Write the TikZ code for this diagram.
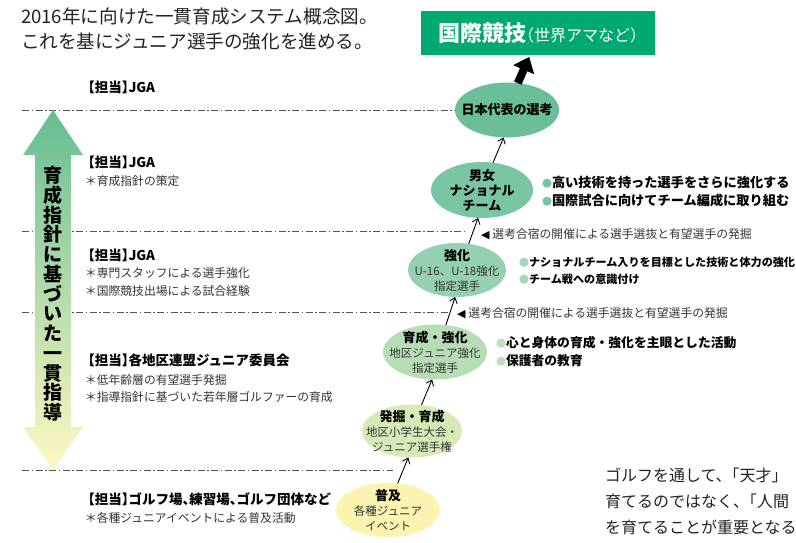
\documentclass[tikz,border=0pt]{standalone}
\usepackage{fontspec}
\setmainfont{Noto Sans CJK JP}
\newfontfamily\symf{DejaVu Sans}
\usetikzlibrary{shapes.geometric,arrows.meta}
\definecolor{txtdark}{HTML}{222222}
\definecolor{txtgray}{HTML}{333333}
\definecolor{lineg}{HTML}{555555}
\definecolor{intlgreen}{HTML}{00A971}
\definecolor{eonec}{HTML}{6ABF98}
\definecolor{etwoc}{HTML}{79C5A4}
\definecolor{ethreec}{HTML}{94D0B1}
\definecolor{efourc}{HTML}{B7DDB6}
\definecolor{efivec}{HTML}{D6E9B7}
\definecolor{esixc}{HTML}{FBF4B1}
\definecolor{bultwo}{HTML}{79C5A4}
\definecolor{bulthree}{HTML}{A3D6BA}
\definecolor{bulfour}{HTML}{BFE0BA}
\definecolor{arrtop}{HTML}{66BD94}
\definecolor{arrmid}{HTML}{C4E1A9}
\definecolor{arrbot}{HTML}{FFF9C2}
\newcommand\hw[1]{{\addfontfeature{RawFeature=+halt}#1}}
\newcommand\sttl[1]{{\bfseries\color{black}\fontsize{13}{15}\selectfont #1}}
\newcommand\bul[1]{{\color{#1}\fontsize{10}{10}\selectfont ●}}
\newcommand\tri{{\symf\color{black}\fontsize{11}{11}\selectfont ◀}\hspace{3pt}}
\begin{document}
\begin{tikzpicture}[x=1pt,y=-1pt,
  every node/.style={inner sep=0pt, outer sep=0pt},
  title/.style={anchor=west, text=txtdark, font=\fontsize{18.6}{18.6}\selectfont},
  tanto/.style={anchor=west, text=black, font=\bfseries\fontsize{13.5}{13.5}\selectfont},
  tsub/.style={anchor=west, text=txtgray, font=\fontsize{11.8}{11.8}\selectfont},
  stage/.style={ellipse, inner xsep=-14pt, inner ysep=-8pt, align=center, text=txtgray, font=\fontsize{11.5}{15}\selectfont},
  point/.style={anchor=west, text=black, font=\bfseries\fontsize{13.2}{13.2}\selectfont},
  note/.style={anchor=west, text=txtgray, font=\fontsize{11.8}{11.8}\selectfont},
  comment/.style={anchor=west, text=txtdark, font=\fontsize{16}{16}\selectfont},
  dashdot/.style={draw=lineg, line width=0.9pt, dash pattern=on 7pt off 2.5pt on 1.5pt off 2.5pt},
  uparrow/.style={draw=black, -{Straight Barb[length=5pt,width=8pt]}, line width=0.9pt},
  bigarrow/.style={draw=black, -{Triangle[length=14pt,width=22pt]}, line width=8pt},
]
\useasboundingbox (0,0) rectangle (796,543);

% title
\node[title] (t1) at (21,16) {2016年に向けた一貫育成システム概念図。};
\node[title] (t2) at (21,41) {これを基にジュニア選手の強化を進める。};

% top box
\node[fill=intlgreen, minimum width=234pt, minimum height=44pt, text=white] (intl) at (538,33)
  {{\bfseries\fontsize{22}{22}\selectfont 国際競技}{\fontsize{16}{16}\selectfont \hw{（}世界アマなど\hw{）}}};

% stage ellipses
\node[stage, fill=eonec, minimum width=104pt, minimum height=55pt] (e1) at (507,110) {\sttl{日本代表の選考}};
\node[stage, fill=etwoc, minimum width=102pt, minimum height=56pt] (e2) at (482,190) {\sttl{男女}\\\sttl{ナショナル}\\\sttl{チーム}};
\node[stage, fill=ethreec, minimum width=98pt, minimum height=54pt] (e3) at (457,270) {\sttl{強化}\\U-16、U-18強化\\指定選手};
\node[stage, fill=efourc, minimum width=104pt, minimum height=55pt] (e4) at (435,352) {\sttl{育成・強化}\\地区ジュニア強化\\指定選手};
\node[stage, fill=efivec, minimum width=100pt, minimum height=53pt] (e5) at (412,431) {\sttl{発掘・育成}\\地区小学生大会・\\ジュニア選手権};
\node[stage, fill=esixc, minimum width=104pt, minimum height=54pt] (e6) at (388,510) {\sttl{普及}\\各種ジュニア\\イベント};

% arrows
\draw[bigarrow, shorten >=2pt] (e1.68) -- (intl.250);
\draw[uparrow] (e2.68) -- (e1.263);
\draw[uparrow] (e3.66) -- (e2.262);
\draw[uparrow] (e4.68) -- (e3.266);
\draw[uparrow] (e5.70) -- (e4.264);
\draw[uparrow] (e6.70) -- (e5.262);

% dash-dot lines
\coordinate (d1) at (22,110);
\coordinate (d2a) at (22,231); \coordinate (d2b) at (467,231);
\coordinate (d3a) at (22,312); \coordinate (d3b) at (448,312);
\coordinate (d4a) at (22,470); \coordinate (d4b) at (393,470);
\draw[dashdot] (d1) -- (e1.west);
\draw[dashdot] (d2a) -- (d2b);
\draw[dashdot] (d3a) -- (d3b);
\draw[dashdot] (d4a) -- (d4b);

% left double arrow
\shade[top color=arrtop, middle color=arrmid, bottom color=arrbot]
  (53,110) -- (83,155) -- (71,155) -- (71,427) -- (83,427) -- (53,470)
  -- (23,427) -- (35,427) -- (35,155) -- (23,155) -- cycle;
\node[align=center, text=black, font=\bfseries\fontsize{19}{19.75}\selectfont] (vt) at (53,294)
  {育\\成\\指\\針\\に\\基\\づ\\い\\た\\一\\貫\\指\\導};

% left labels
\node[tanto] (l1) at (88,87) {\hw{【}担当\hw{】}JGA};
\node[tanto] (l2) at (88,162) {\hw{【}担当\hw{】}JGA};
\node[tsub] (s2a) at (85,181) {＊育成指針の策定};
\node[tanto] (l3) at (88,255) {\hw{【}担当\hw{】}JGA};
\node[tsub] (s3a) at (85,273) {＊専門スタッフによる選手強化};
\node[tsub] (s3b) at (85,291) {＊国際競技出場による試合経験};
\node[tanto] (l4) at (88,360) {\hw{【}担当\hw{】}各地区連盟ジュニア委員会};
\node[tsub] (s4a) at (85,380) {＊低年齢層の有望選手発掘};
\node[tsub] (s4b) at (85,397) {＊指導指針に基づいた若年層ゴルファーの育成};
\node[tanto] (l5) at (88,499) {\hw{【}担当\hw{】}ゴルフ場\hw{、}練習場\hw{、}ゴルフ団体など};
\node[tsub] (s5a) at (85,518) {＊各種ジュニアイベントによる普及活動};

% right points
\node[point] (p2a) at (542,182) {\bul{bultwo}高い技術を持った選手をさらに強化する};
\node[point] (p2b) at (542,200) {\bul{bultwo}国際試合に向けてチーム編成に取り組む};
\node[note] (n1) at (481,234) {\tri 選考合宿の開催による選手選抜と有望選手の発掘};
\node[point, font=\bfseries\fontsize{11.1}{11.1}\selectfont] (p3a) at (519,262) {\bul{bulthree}ナショナルチーム入りを目標とした技術と体力の強化};
\node[point, font=\bfseries\fontsize{11.1}{11.1}\selectfont] (p3b) at (519,279) {\bul{bulthree}チーム戦への意識付け};
\node[note] (n2) at (457,313) {\tri 選考合宿の開催による選手選抜と有望選手の発掘};
\node[point, font=\bfseries\fontsize{12.8}{12.8}\selectfont] (p4a) at (496,343) {\bul{bulfour}心と身体の育成・強化を主眼とした活動};
\node[point, font=\bfseries\fontsize{12.8}{12.8}\selectfont] (p4b) at (496,361) {\bul{bulfour}保護者の教育};

% bottom right comment
\node[comment] (c1) at (605,475) {ゴルフを通して、\hw{「}天才」};
\node[comment] (c2) at (605,501) {育てるのではなく、\hw{「}人間};
\node[comment] (c3) at (605,527) {を育てることが重要となる};
\end{tikzpicture}
\end{document}
